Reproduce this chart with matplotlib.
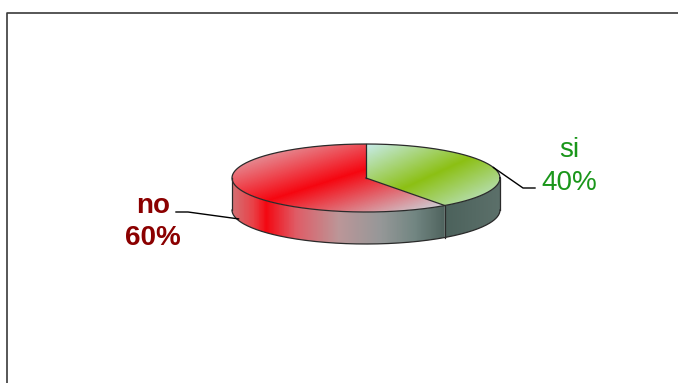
import numpy as np
import matplotlib.pyplot as plt
from matplotlib.patches import Polygon
from matplotlib.colors import LinearSegmentedColormap

labels = ['si', 'no']
values = [40, 60]
label_colors = ['#1a961a', '#8b0000']
label_weights = ['normal', 'bold']

W, H = 678, 383
cx, cy = 366.0, 178.0      # centre of the top face (pixels)
a, b = 134.0, 34.0         # ellipse radii
depth = 32.0

fig = plt.figure(figsize=(W / 100, H / 100), dpi=100)
ax = fig.add_axes([0, 0, 1, 1])
ax.set_xlim(0, W)
ax.set_ylim(H, 0)
ax.axis('off')

xx, yy = np.meshgrid(np.arange(W) + 0.5, np.arange(H) + 0.5)


def cmap_from(stops):
    return LinearSegmentedColormap.from_list(
        '', [(p, tuple(c / 255 for c in col)) for p, col in stops])


def fill_gradient(verts, param, stops, z):
    patch = Polygon(verts, closed=True, facecolor='none', edgecolor='none')
    ax.add_patch(patch)
    img = cmap_from(stops)(np.clip(param, 0, 1))
    im = ax.imshow(img, extent=(0, W, H, 0), interpolation='bilinear',
                   zorder=z, aspect='auto')
    im.set_clip_path(patch)


def ellipse_pts(t0, t1, dy=0.0, n=200):
    t = np.radians(np.linspace(t0, t1, n))
    return np.column_stack([cx + a * np.cos(t), cy - b * np.sin(t) + dy])


# slice angles: start at 12 o'clock, go clockwise (all within [-270, 90])
fracs = np.array(values) / sum(values)
starts = 90 - 360 * np.concatenate([[0], np.cumsum(fracs)[:-1]])
ends = starts - 360 * fracs

top_stops = {
    'si': [(0, (200, 236, 236)), (0.5, (140, 192, 20)), (1, (196, 232, 228))],
    'no': [(0, (222, 198, 205)), (0.5, (246, 6, 16)), (1, (200, 226, 232))],
}
side_stops = {
    'si': [(0, (76, 98, 92)), (1, (92, 112, 106))],
    'no': [(0, (212, 112, 116)), (0.1, (234, 64, 70)), (0.16, (244, 8, 18)),
           (0.3, (224, 92, 102)), (0.5, (188, 150, 152)), (0.7, (150, 152, 152)),
           (0.86, (114, 134, 130)), (1, (80, 100, 95))],
}

edge = dict(color='#2a2a2a', lw=0.9, zorder=6)

# side walls: only the front half (-180..0 degrees) is visible
for lab, s, e in zip(labels, starts, ends):
    lo, hi = max(e, -180), min(s, 0)
    if lo >= hi:
        continue
    topedge = ellipse_pts(lo, hi)
    botedge = ellipse_pts(hi, lo, dy=depth)
    verts = np.vstack([topedge, botedge])
    x0, x1 = verts[:, 0].min(), verts[:, 0].max()
    fill_gradient(verts, (xx - x0) / (x1 - x0), side_stops[lab], 2)

# top faces
for lab, s, e in zip(labels, starts, ends):
    arc = ellipse_pts(s, e)
    verts = np.vstack([[cx, cy], arc])
    x0, x1 = verts[:, 0].min(), verts[:, 0].max()
    y0, y1 = verts[:, 1].min(), verts[:, 1].max()
    param = 0.5 * ((xx - x0) / (x1 - x0) + (yy - y0) / (y1 - y0))
    fill_gradient(verts, param, top_stops[lab], 3)
    px = cx + a * np.cos(np.radians(s))
    py = cy - b * np.sin(np.radians(s))
    ax.plot([cx, px], [cy, py], **edge)
    if -180 <= s <= 0:
        ax.plot([px, px], [py, py + depth], **edge)

# outlines
full = ellipse_pts(0, 360, n=400)
ax.plot(full[:, 0], full[:, 1], **edge)
front = ellipse_pts(180, 360, dy=depth)
ax.plot(front[:, 0], front[:, 1], **edge)
ax.plot([cx - a, cx - a], [cy, cy + depth], **edge)
ax.plot([cx + a, cx + a], [cy, cy + depth], **edge)

# leader lines and labels
mids = (starts + ends) / 2
leader = {
    'si': dict(dfrac=0.0, knee=(523, 188), tail=(535, 188),
               text=(569, 157), pct=(569, 190)),
    'no': dict(dfrac=1.0, knee=(188, 212), tail=(176, 212),
               text=(153, 213), pct=(153, 245)),
}
for lab, v, m, col, wt in zip(labels, values, mids, label_colors, label_weights):
    L = leader[lab]
    t = np.radians(m)
    px = cx + a * np.cos(t)
    py = cy - b * np.sin(t) + L['dfrac'] * depth * 0.95
    ax.plot([px, L['knee'][0], L['tail'][0]], [py, L['knee'][1], L['tail'][1]],
            color='black', lw=1.0, zorder=7)
    for txt, pos in ((lab, L['text']), (f'{v}%', L['pct'])):
        ax.text(pos[0], pos[1], txt, ha='center', va='baseline', color=col,
                fontsize=20, fontweight=wt, family='Liberation Sans', zorder=8)

# chart area frame
ax.plot([6.5, 6.5, W + 2], [H + 2, 12.5, 12.5], color='#3a3a3a', lw=1.2,
        zorder=9, clip_on=False)

fig.savefig('out.png', dpi=100)
